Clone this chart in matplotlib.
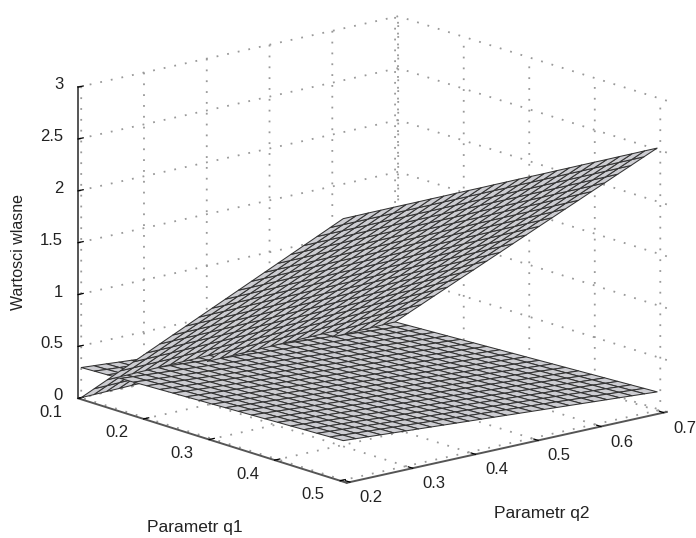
import matplotlib
matplotlib.use('Agg')
import matplotlib.pyplot as plt
from mpl_toolkits.mplot3d import proj3d
from mpl_toolkits.mplot3d.art3d import Poly3DCollection

q1 = [0.10, 0.12, 0.14, 0.16, 0.18, 0.20, 0.22, 0.24, 0.26, 0.28, 0.30,
      0.32, 0.34, 0.36, 0.38, 0.40, 0.42, 0.44, 0.46, 0.48, 0.50]
q2 = [0.20, 0.22, 0.24, 0.26, 0.28, 0.30, 0.32, 0.34, 0.36, 0.38, 0.40, 0.42, 0.44,
      0.46, 0.48, 0.50, 0.52, 0.54, 0.56, 0.58, 0.60, 0.62, 0.64, 0.66, 0.68, 0.70]

# steep eigenvalue sheet, one row per q1
steep = [
    [.000,.002,.005,.007,.010,.012,.014,.017,.019,.022,.024,.026,.029,.031,.034,.036,.038,.041,.043,.046,.048,.050,.053,.055,.058,.060],
    [.126,.128,.131,.133,.135,.138,.140,.142,.144,.147,.149,.151,.154,.156,.158,.161,.163,.165,.167,.170,.172,.174,.177,.179,.181,.184],
    [.252,.254,.256,.259,.261,.263,.265,.267,.270,.272,.274,.276,.278,.281,.283,.285,.287,.289,.292,.294,.296,.298,.300,.303,.305,.307],
    [.378,.380,.382,.384,.386,.389,.391,.393,.395,.397,.399,.401,.403,.405,.407,.410,.412,.414,.416,.418,.420,.422,.424,.426,.428,.431],
    [.504,.506,.508,.510,.512,.514,.516,.518,.520,.522,.524,.526,.528,.530,.532,.534,.536,.538,.540,.542,.544,.546,.548,.550,.552,.554],
    [.630,.632,.634,.636,.638,.640,.641,.643,.645,.647,.649,.651,.653,.655,.657,.659,.660,.662,.664,.666,.668,.670,.672,.674,.676,.678],
    [.756,.758,.760,.761,.763,.765,.767,.769,.770,.772,.774,.776,.778,.779,.781,.783,.785,.787,.788,.790,.792,.794,.796,.797,.799,.801],
    [.882,.884,.885,.887,.889,.891,.892,.894,.896,.897,.899,.901,.902,.904,.906,.908,.909,.911,.913,.914,.916,.918,.919,.921,.923,.925],
    [1.008,1.010,1.011,1.013,1.014,1.016,1.018,1.019,1.021,1.022,1.024,1.026,1.027,1.029,1.030,1.032,1.034,1.035,1.037,1.038,1.040,1.042,1.043,1.045,1.046,1.048],
    [1.134,1.136,1.137,1.139,1.140,1.142,1.143,1.145,1.146,1.148,1.149,1.151,1.152,1.154,1.155,1.157,1.158,1.160,1.161,1.163,1.164,1.166,1.167,1.169,1.170,1.172],
    [1.260,1.261,1.263,1.264,1.266,1.267,1.268,1.270,1.271,1.273,1.274,1.275,1.277,1.278,1.280,1.281,1.282,1.284,1.285,1.287,1.288,1.289,1.291,1.292,1.294,1.295],
    [1.386,1.387,1.389,1.390,1.391,1.393,1.394,1.395,1.396,1.398,1.399,1.400,1.402,1.403,1.404,1.406,1.407,1.408,1.409,1.411,1.412,1.413,1.415,1.416,1.417,1.419],
    [1.512,1.513,1.514,1.516,1.517,1.518,1.519,1.520,1.522,1.523,1.524,1.525,1.526,1.528,1.529,1.530,1.531,1.532,1.534,1.535,1.536,1.537,1.538,1.540,1.541,1.542],
    [1.638,1.639,1.640,1.641,1.642,1.644,1.645,1.646,1.647,1.648,1.649,1.650,1.651,1.652,1.653,1.655,1.656,1.657,1.658,1.659,1.660,1.661,1.662,1.663,1.664,1.666],
    [1.764,1.765,1.766,1.767,1.768,1.769,1.770,1.771,1.772,1.773,1.774,1.775,1.776,1.777,1.778,1.779,1.780,1.781,1.782,1.783,1.784,1.785,1.786,1.787,1.788,1.789],
    [1.890,1.891,1.892,1.893,1.894,1.894,1.895,1.896,1.897,1.898,1.899,1.900,1.901,1.902,1.903,1.904,1.904,1.905,1.906,1.907,1.908,1.909,1.910,1.911,1.912,1.913],
    [2.016,2.017,2.018,2.018,2.019,2.020,2.021,2.022,2.022,2.023,2.024,2.025,2.026,2.026,2.027,2.028,2.029,2.030,2.030,2.031,2.032,2.033,2.034,2.034,2.035,2.036],
    [2.142,2.143,2.143,2.144,2.145,2.146,2.146,2.147,2.148,2.148,2.149,2.150,2.150,2.151,2.152,2.153,2.153,2.154,2.155,2.155,2.156,2.157,2.157,2.158,2.159,2.160],
    [2.268,2.269,2.269,2.270,2.270,2.271,2.272,2.272,2.273,2.273,2.274,2.275,2.275,2.276,2.276,2.277,2.278,2.278,2.279,2.279,2.280,2.281,2.281,2.282,2.282,2.283],
    [2.394,2.395,2.395,2.396,2.396,2.397,2.397,2.398,2.398,2.399,2.399,2.400,2.400,2.401,2.401,2.402,2.402,2.403,2.403,2.404,2.404,2.405,2.405,2.406,2.406,2.407],
    [2.520,2.520,2.521,2.521,2.522,2.522,2.522,2.523,2.523,2.524,2.524,2.524,2.525,2.525,2.526,2.526,2.526,2.527,2.527,2.528,2.528,2.528,2.529,2.529,2.530,2.530],
]

# flat eigenvalue sheet, one row per q1
flat = [
    [.290,.281,.272,.262,.253,.244,.235,.226,.216,.207,.198,.189,.180,.170,.161,.152,.143,.134,.124,.115,.106,.097,.088,.078,.069,.060],
    [.295,.285,.276,.267,.258,.249,.240,.231,.221,.212,.203,.194,.185,.176,.167,.157,.148,.139,.130,.121,.112,.103,.093,.084,.075,.066],
    [.299,.290,.281,.272,.263,.254,.245,.235,.226,.217,.208,.199,.190,.181,.172,.163,.154,.145,.136,.126,.117,.108,.099,.090,.081,.072],
    [.304,.294,.285,.276,.267,.258,.249,.240,.231,.222,.213,.204,.195,.186,.177,.168,.159,.150,.141,.132,.123,.114,.105,.096,.087,.078],
    [.308,.299,.290,.281,.272,.263,.254,.245,.236,.227,.218,.209,.200,.192,.183,.174,.165,.156,.147,.138,.129,.120,.111,.102,.093,.084],
    [.313,.304,.295,.286,.277,.268,.259,.250,.241,.232,.224,.215,.206,.197,.188,.179,.170,.161,.152,.143,.135,.126,.117,.108,.099,.090],
    [.317,.308,.299,.290,.282,.273,.264,.255,.246,.237,.229,.220,.211,.202,.193,.184,.176,.167,.158,.149,.140,.131,.123,.114,.105,.096],
    [.322,.313,.304,.295,.286,.278,.269,.260,.251,.243,.234,.225,.216,.207,.199,.190,.181,.172,.163,.155,.146,.137,.128,.120,.111,.102],
    [.326,.317,.309,.300,.291,.282,.274,.265,.256,.248,.239,.230,.221,.213,.204,.195,.186,.178,.169,.160,.152,.143,.134,.125,.117,.108],
    [.331,.322,.313,.305,.296,.287,.279,.270,.261,.253,.244,.235,.227,.218,.209,.201,.192,.183,.175,.166,.157,.149,.140,.131,.123,.114],
    [.335,.326,.318,.309,.301,.292,.283,.275,.266,.258,.249,.240,.232,.223,.215,.206,.197,.189,.180,.172,.163,.154,.146,.137,.129,.120],
    [.340,.331,.322,.314,.305,.297,.288,.280,.271,.263,.254,.246,.237,.228,.220,.211,.203,.194,.186,.177,.169,.160,.152,.143,.135,.126],
    [.344,.336,.327,.319,.310,.302,.293,.285,.276,.268,.259,.251,.242,.234,.225,.217,.208,.200,.191,.183,.174,.166,.157,.149,.140,.132],
    [.349,.340,.332,.323,.315,.306,.298,.290,.281,.273,.264,.256,.247,.239,.231,.222,.214,.205,.197,.189,.180,.172,.163,.155,.146,.138],
    [.353,.345,.336,.328,.320,.311,.303,.295,.286,.278,.269,.261,.253,.244,.236,.228,.219,.211,.203,.194,.186,.177,.169,.161,.152,.144],
    [.358,.349,.341,.333,.324,.316,.308,.299,.291,.283,.275,.266,.258,.250,.241,.233,.225,.216,.208,.200,.192,.183,.175,.167,.158,.150],
    [.362,.354,.346,.337,.329,.321,.313,.304,.296,.288,.280,.271,.263,.255,.247,.238,.230,.222,.214,.205,.197,.189,.181,.172,.164,.156],
    [.367,.358,.350,.342,.334,.326,.317,.309,.301,.293,.285,.277,.268,.260,.252,.244,.236,.228,.219,.211,.203,.195,.187,.179,.170,.162],
    [.371,.363,.355,.347,.339,.330,.322,.314,.306,.298,.290,.282,.274,.265,.257,.249,.241,.233,.225,.217,.209,.200,.192,.184,.176,.168],
    [.376,.367,.359,.351,.343,.335,.327,.319,.311,.303,.295,.287,.279,.271,.263,.255,.247,.239,.231,.222,.214,.206,.198,.190,.182,.174],
    [.380,.372,.364,.356,.348,.340,.332,.324,.316,.308,.300,.292,.284,.276,.268,.260,.252,.244,.236,.228,.220,.212,.204,.196,.188,.180],
]

q1_ticks = [0.1, 0.2, 0.3, 0.4, 0.5]
q2_ticks = [0.2, 0.3, 0.4, 0.5, 0.6, 0.7]
z_ticks = [0, 0.5, 1, 1.5, 2, 2.5, 3]
z_labels = ['0', '0.5', '1', '1.5', '2', '2.5', '3']

Q1_MAX = 0.51
Q2_MIN = 0.195
Q2_MAX = 0.705
GRID_DOTS = (0, (1, 5))
GRID_COLOR = '#999999'
TEXT_COLOR = '#222222'

plt.rcParams['font.family'] = ['Liberation Sans', 'DejaVu Sans']
plt.rcParams['grid.linestyle'] = GRID_DOTS
plt.rcParams['grid.color'] = GRID_COLOR
plt.rcParams['grid.linewidth'] = 1.3


def cell(z, i, j):
    return [(q1[i], q2[j], z[i][j]), (q1[i + 1], q2[j], z[i + 1][j]),
            (q1[i + 1], q2[j + 1], z[i + 1][j + 1]), (q1[i], q2[j + 1], z[i][j + 1])]


def add_cells(cells, order):
    mesh = Poly3DCollection(cells, facecolor='#cdcdd2', edgecolor='#333333', linewidth=0.75,
                            zorder=order, clip_on=False)
    ax.add_collection3d(mesh)


def tick_text(x, y, z, label, dx, dy, ha='center'):
    px, py, _ = proj3d.proj_transform(x, y, z, ax.get_proj())
    ax.annotate(label, (px, py), xytext=(dx, dy), textcoords='offset pixels', ha=ha, va='center',
                fontsize=12, color=TEXT_COLOR, annotation_clip=False)


fig = plt.figure(figsize=(6.96, 5.38), dpi=100)
ax = fig.add_axes([0.1382, 0.0227, 538 / 696, 1.0], projection='3d', proj_type='ortho')
ax.view_init(elev=15.3, azim=-40)
ax.set_box_aspect((1, 1, 0.772), zoom=1.215)
ax.computed_zorder = False

# the two sheets cross: the steep one is under the flat one behind the crossing and over it in front
steep_behind = []
steep_front = []
flat_cells = []
for i in range(len(q1) - 1):
    for j in range(len(q2) - 1):
        s = cell(steep, i, j)
        f = cell(flat, i, j)
        flat_cells.append(f)
        if sum(p[2] for p in s) > sum(p[2] for p in f):
            steep_front.append(s)
        else:
            steep_behind.append(s)
add_cells(steep_behind, 2)
add_cells(flat_cells, 3)
add_cells(steep_front, 4)

ax.set_xlim(0.1, Q1_MAX, view_margin=0)
ax.set_ylim(Q2_MIN, Q2_MAX, view_margin=0)
ax.set_zlim(0, 3, view_margin=0)
ax.set_xticks(q1_ticks)
ax.set_yticks(q2_ticks)
ax.set_zticks(z_ticks)
ax.set_xticklabels([])
ax.set_yticklabels([])
ax.set_zticklabels([])
ax.zaxis.set_ticks_position('lower')

for axis in [ax.xaxis, ax.yaxis, ax.zaxis]:
    axis.set_pane_color((1, 1, 1, 0))
    axis.pane.set_edgecolor('none')
    axis.line.set_color('#555555')
    axis.line.set_linewidth(1.4)
    axis._axinfo['tick']['inward_factor'] = 0.0
    axis._axinfo['tick']['outward_factor'] = 0.2
    axis._axinfo['tick']['color'] = '#555555'
    axis._axinfo['tick']['linewidth'] = {True: 0.9, False: 0.5}

# dotted edge of the back corner
ax.plot([0.1, 0.1], [Q2_MAX, Q2_MAX], [0, 3], linestyle=GRID_DOTS, color=GRID_COLOR, linewidth=1.3, zorder=1)

for v in q1_ticks:
    tick_text(v, Q2_MIN, 0, str(v), -27, -14)
for v in q2_ticks:
    tick_text(Q1_MAX, v, 0, str(v), 21, -15.5)
for v, label in zip(z_ticks, z_labels):
    tick_text(0.1, Q2_MIN, v, label, -15, 2.5, ha='right')

fig.text(0.027, 0.532, 'Wartosci wlasne', rotation=90, ha='center', va='center', fontsize=11.5, color=TEXT_COLOR)
fig.text(0.28, 0.02, 'Parametr q1', ha='center', va='center', fontsize=12.5, color=TEXT_COLOR)
fig.text(0.779, 0.046, 'Parametr q2', ha='center', va='center', fontsize=12.5, color=TEXT_COLOR)

fig.savefig('out.png', dpi=100)
